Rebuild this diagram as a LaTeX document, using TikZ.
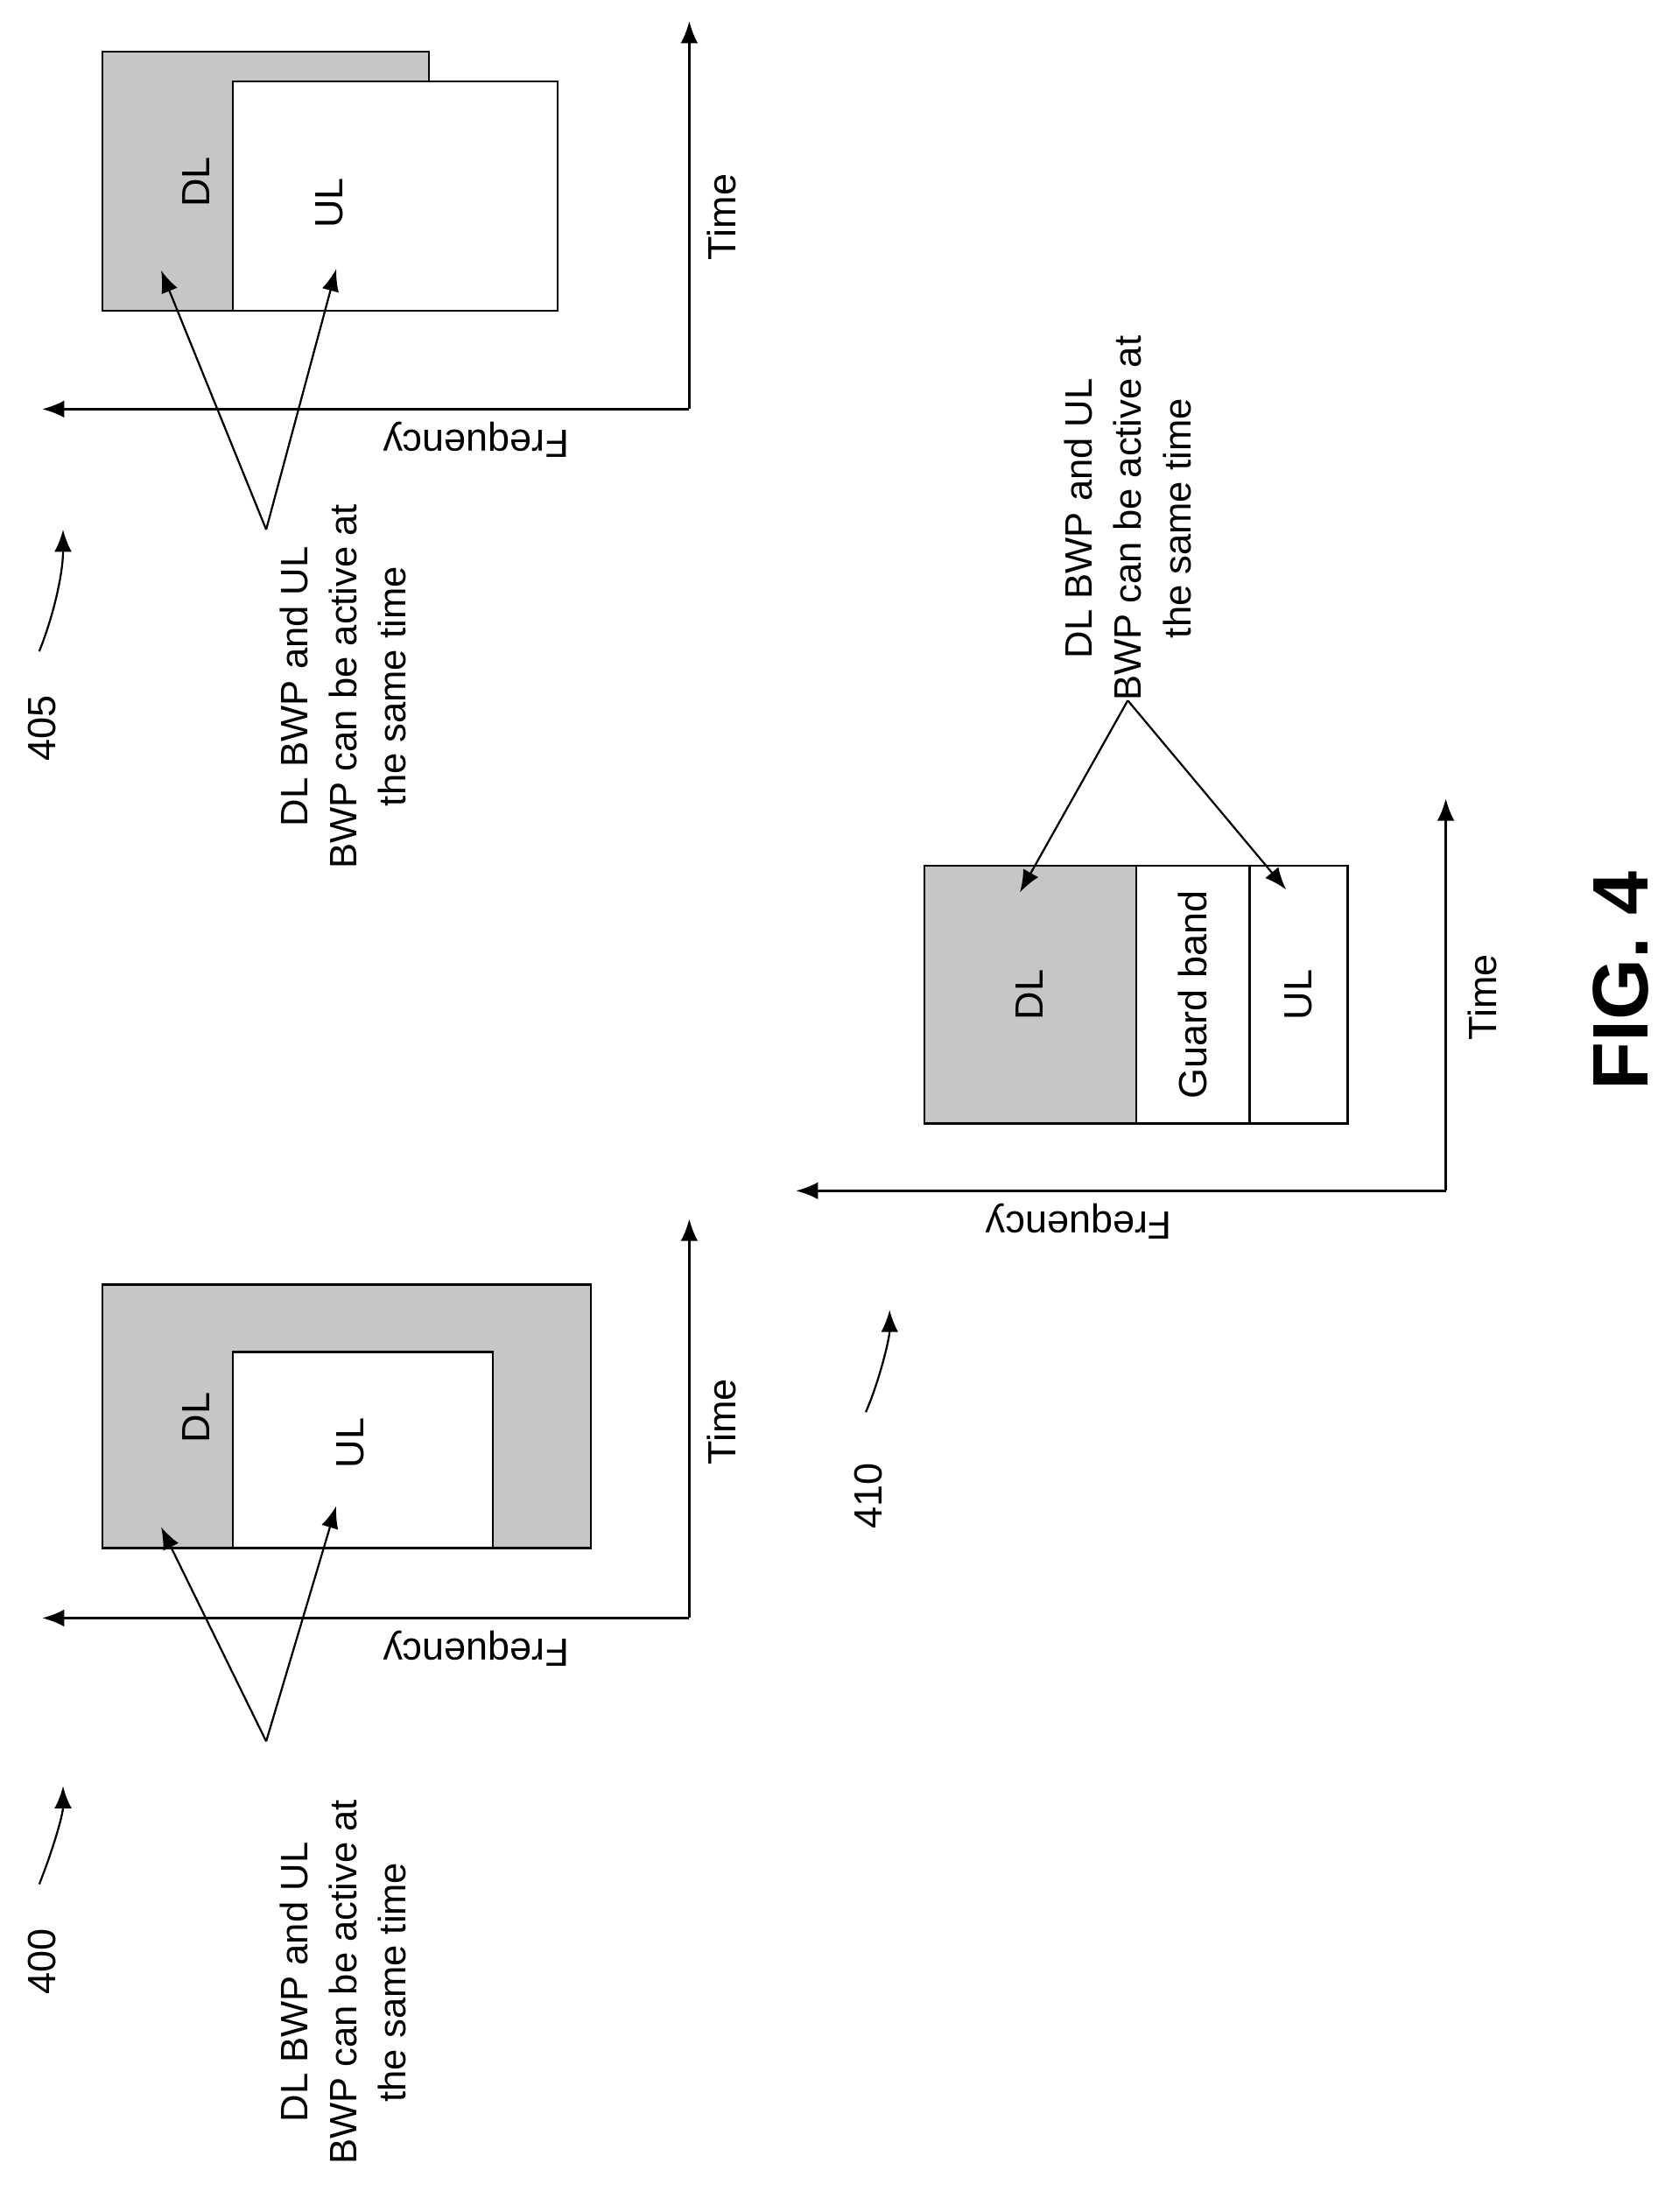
\documentclass[tikz,border=0pt]{standalone}
\usepackage{fontspec}
\setmainfont{Liberation Sans}
\usetikzlibrary{arrows.meta}
\tikzset{
  ax/.style={line width=1pt,-{Latex[length=9pt,width=7pt]}},
  ptr/.style={line width=0.8pt,-{Latex[length=9pt,width=7pt]}},
  dlbox/.style={draw,line width=0.8pt,fill=gray!45},
  ulbox/.style={draw,line width=0.8pt,fill=white},
  lbl/.style={rotate=90,font=\fontsize{16}{19}\selectfont},
  flbl/.style={rotate=180,font=\fontsize{16}{19}\selectfont},
  note/.style={rotate=90,align=center,font=\fontsize{15.5}{20}\selectfont},
}
\begin{document}
\begin{tikzpicture}[x=0.02cm,y=-0.02cm]
  \useasboundingbox (0,0) rectangle (1188,1579);
  % 405
  \draw[dlbox] (73,37) rectangle (306,222);
  \draw[ulbox] (166,58) rectangle (398,222);
  \node[lbl] (dl405) at (140,130) {DL};
  \node[lbl] (ul405) at (235,145) {UL};
  \coordinate (o405) at (492,292);
  \coordinate (t405) at (492,15);
  \coordinate (f405) at (30,292);
  \draw[ax] (o405) -- (t405);
  \draw[ax] (o405) -- (f405);
  \node[lbl] (time405) at (515,155) {Time};
  \node[flbl] (freq405) at (340,314) {Frequency};
  \node[note] (txt405) at (245,490) {DL BWP and UL\\BWP can be active at\\the same time};
  \coordinate (a405) at (190,378);
  \coordinate (p405a) at (115,193);
  \coordinate (p405b) at (240,192);
  \draw[ptr] (a405) -- (p405a);
  \draw[ptr] (a405) -- (p405b);
  \node[lbl] (n405) at (30,520) {405};
  \coordinate (c405) at (28,465);
  \coordinate (e405) at (45,378);
  \draw[ptr] (c405) .. controls (38,440) and (45,410) .. (e405);
  % 400
  \draw[dlbox] (73,917) rectangle (422,1105);
  \draw[ulbox] (166,965) rectangle (352,1105);
  \node[lbl] (dl400) at (140,1012) {DL};
  \node[lbl] (ul400) at (250,1030) {UL};
  \coordinate (o400) at (492,1155);
  \coordinate (t400) at (492,870);
  \coordinate (f400) at (30,1155);
  \draw[ax] (o400) -- (t400);
  \draw[ax] (o400) -- (f400);
  \node[lbl] (time400) at (515,1015) {Time};
  \node[flbl] (freq400) at (340,1177) {Frequency};
  \node[note] (txt400) at (245,1415) {DL BWP and UL\\BWP can be active at\\the same time};
  \coordinate (a400) at (190,1243);
  \coordinate (p400a) at (115,1090);
  \coordinate (p400b) at (240,1075);
  \draw[ptr] (a400) -- (p400a);
  \draw[ptr] (a400) -- (p400b);
  \node[lbl] (n400) at (30,1400) {400};
  \coordinate (c400) at (28,1345);
  \coordinate (e400) at (45,1275);
  \draw[ptr] (c400) .. controls (38,1320) and (45,1295) .. (e400);
  % 410
  \draw[dlbox] (660,618) rectangle (811,802);
  \draw[ulbox] (811,618) rectangle (892,802);
  \draw[ulbox] (892,618) rectangle (962,802);
  \node[lbl] (dl410) at (735,710) {DL};
  \node[lbl] (gb410) at (851,710) {Guard band};
  \node[lbl] (ul410) at (927,710) {UL};
  \coordinate (o410) at (1032,850);
  \coordinate (t410) at (1032,570);
  \coordinate (f410) at (568,850);
  \draw[ax] (o410) -- (t410);
  \draw[ax] (o410) -- (f410);
  \node[lbl] (time410) at (1058,712) {Time};
  \node[flbl] (freq410) at (770,872) {Frequency};
  \node[note] (txt410) at (805,370) {DL BWP and UL\\BWP can be active at\\the same time};
  \coordinate (a410) at (805,500);
  \coordinate (p410a) at (728,637);
  \coordinate (p410b) at (918,635);
  \draw[ptr] (a410) -- (p410a);
  \draw[ptr] (a410) -- (p410b);
  \node[lbl] (n410) at (620,1068) {410};
  \coordinate (c410) at (618,1008);
  \coordinate (e410) at (635,935);
  \draw[ptr] (c410) .. controls (628,985) and (635,955) .. (e410);
  \node[rotate=90,font=\fontsize{32}{38}\bfseries] (fig) at (1157,700) {FIG. 4};
\end{tikzpicture}
\end{document}
